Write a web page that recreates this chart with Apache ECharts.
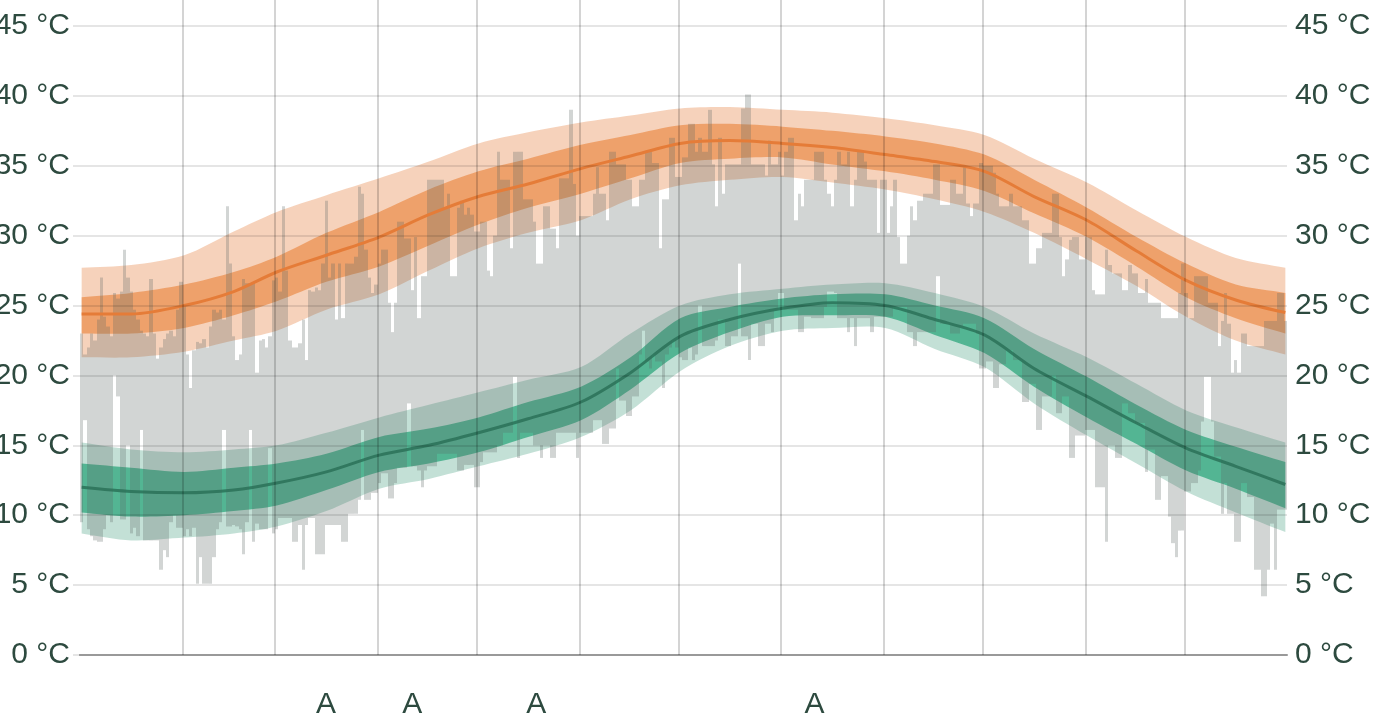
<!DOCTYPE html>
<html>
<head>
<meta charset="utf-8">
<script src="https://cdn.jsdelivr.net/npm/echarts@6/dist/echarts.min.js"></script>
<style>
html,body{margin:0;padding:0;background:#fff;}
#c{width:1389px;height:719px;}
</style>
</head>
<body>
<div id="c"></div>
<script>
// ---- Data ----
const monthStarts = [31, 59, 90, 120, 151, 181, 212, 243, 273, 304, 334];
const markerDays = [74.4, 100.5, 138.0, 222.1];
const markerLabels = ['A', 'A', 'A', 'A'];

// climatology (days of year)
const bandDays = [0, 15, 31, 46, 59, 74, 90, 105, 120, 135, 151, 166, 181, 196, 212, 227, 243, 258, 273, 288, 304, 319, 334, 349, 364];
const hiP90 = [27.7, 27.9, 28.6, 30.3, 31.7, 32.9, 34.1, 35.3, 36.6, 37.4, 38.1, 38.6, 39.1, 39.2, 39.0, 38.8, 38.4, 37.9, 37.2, 35.5, 33.8, 31.8, 29.9, 28.4, 27.7];
const hiP75 = [25.6, 25.9, 26.5, 27.4, 28.5, 30.2, 31.7, 33.3, 34.6, 35.5, 36.5, 37.2, 37.9, 38.0, 37.8, 37.5, 37.1, 36.6, 35.8, 34.0, 32.0, 29.9, 28.0, 26.5, 25.9];
const hiP50 = [24.4, 24.4, 25.0, 26.0, 27.4, 28.6, 29.9, 31.5, 32.8, 33.7, 34.8, 35.7, 36.6, 36.8, 36.6, 36.3, 35.8, 35.3, 34.6, 32.8, 31.1, 28.9, 26.8, 25.4, 24.5];
const hiP25 = [23.0, 23.0, 23.4, 24.3, 25.3, 26.7, 27.8, 29.3, 30.8, 32.0, 33.0, 34.1, 35.2, 35.5, 35.6, 35.1, 34.6, 34.0, 33.2, 31.6, 29.9, 27.8, 25.6, 24.1, 23.0];
const hiP10 = [21.3, 21.3, 21.7, 22.5, 23.2, 24.7, 25.8, 27.5, 29.1, 30.2, 31.1, 32.6, 33.6, 34.0, 34.2, 33.8, 33.3, 32.6, 31.7, 30.2, 28.3, 26.4, 24.2, 22.5, 21.5];

const loP90 = [15.2, 14.7, 14.5, 14.7, 15.0, 15.9, 17.0, 17.9, 18.8, 19.7, 20.6, 23.0, 25.0, 25.8, 26.2, 26.5, 26.6, 25.9, 24.9, 23.0, 21.3, 19.4, 17.5, 16.3, 15.2];
const loP75 = [13.7, 13.4, 13.1, 13.4, 13.7, 14.4, 15.6, 16.2, 17.0, 18.1, 19.2, 21.3, 24.1, 24.9, 25.5, 25.8, 25.8, 25.0, 24.1, 21.9, 19.9, 17.9, 16.1, 14.9, 13.8];
const loP50 = [12.0, 11.7, 11.6, 11.8, 12.3, 13.1, 14.3, 15.0, 15.9, 16.9, 18.1, 20.2, 22.8, 24.0, 24.8, 25.2, 25.0, 24.0, 22.9, 20.5, 18.5, 16.6, 14.8, 13.5, 12.2];
const loP25 = [10.2, 9.9, 10.0, 10.3, 10.7, 11.8, 13.1, 13.7, 14.5, 15.6, 16.8, 19.0, 21.6, 23.1, 24.2, 24.3, 24.2, 22.9, 21.6, 19.2, 17.0, 15.1, 13.2, 11.9, 10.5];
const loP10 = [8.7, 8.2, 8.4, 8.7, 9.2, 10.3, 11.9, 12.6, 13.5, 14.4, 15.6, 17.5, 20.3, 22.1, 23.2, 23.4, 23.4, 21.9, 20.6, 18.0, 15.7, 13.7, 11.7, 10.2, 8.8];

// daily highs by month
const highJan = [23.0, 21.5, 22.0, 23.0, 22.5, 24.0, 27.0, 24.2, 23.5, 22.8, 25.9, 25.5, 26.0, 29.0, 27.0, 26.0, 24.7, 24.0, 23.2, 23.0, 22.8, 26.9, 23.0, 21.2, 22.0, 22.6, 23.0, 23.2, 22.8, 24.7, 26.7];
const highFeb = [25.0, 21.5, 19.1, 21.8, 22.4, 22.3, 22.6, 22.0, 23.5, 24.7, 24.5, 24.7, 24.0, 32.1, 28.0, 22.8, 21.1, 21.5, 26.9, 26.6, 26.5, 26.6, 20.2, 22.5, 22.6, 22.0, 22.8, 26.8];
const highMar = [27.0, 26.0, 32.1, 27.5, 22.5, 22.0, 22.0, 22.3, 24.0, 21.1, 26.1, 26.0, 26.3, 26.1, 28.0, 32.5, 27.0, 28.0, 24.0, 28.0, 24.1, 28.0, 28.0, 28.0, 28.5, 33.5, 33.0, 29.0, 27.0, 25.9, 26.5];
const highApr = [28.0, 29.0, 29.0, 25.2, 23.1, 25.2, 31.0, 31.0, 29.8, 29.8, 26.1, 29.9, 24.1, 27.1, 27.1, 34.0, 34.0, 34.0, 34.0, 34.0, 32.0, 33.0, 27.1, 27.1, 32.0, 32.5, 31.5, 32.0, 31.5, 30.3];
const highMay = [30.3, 31.0, 31.0, 27.5, 27.1, 30.0, 36.0, 34.0, 34.0, 34.0, 29.1, 36.0, 36.0, 36.0, 32.6, 32.6, 32.6, 31.0, 28.0, 28.0, 32.1, 32.1, 30.5, 30.5, 29.1, 34.1, 34.1, 34.1, 39.0, 33.7, 30.0];
const highJun = [31.4, 31.4, 31.4, 31.4, 33.0, 34.9, 33.0, 33.0, 31.1, 36.0, 36.0, 35.1, 35.1, 35.1, 34.0, 34.0, 32.1, 32.1, 34.0, 34.0, 36.0, 36.0, 35.2, 35.2, 29.1, 32.6, 32.6, 37.0, 37.0, 34.2];
const highJul = [34.2, 35.6, 35.6, 38.0, 38.0, 36.0, 37.0, 36.0, 36.0, 39.0, 35.1, 32.1, 37.0, 33.0, 35.1, 35.1, 35.1, 35.1, 35.1, 39.1, 40.1, 40.1, 35.1, 35.1, 35.1, 35.1, 34.3, 36.8, 35.1, 35.1, 36.0];
const highAug = [34.3, 36.0, 37.0, 37.0, 31.1, 33.0, 32.1, 34.0, 34.0, 34.0, 36.0, 36.0, 36.0, 34.0, 33.0, 32.1, 34.0, 36.0, 35.1, 35.1, 36.0, 32.1, 34.0, 36.0, 36.0, 35.3, 34.0, 34.0, 34.0, 30.2, 34.0];
const highSep = [34.0, 30.2, 32.1, 34.0, 29.9, 28.0, 28.0, 30.0, 32.1, 31.1, 32.5, 32.5, 33.0, 33.0, 33.0, 35.1, 35.1, 32.2, 32.2, 32.2, 34.0, 34.0, 33.0, 33.0, 35.0, 32.3, 31.4, 32.3, 32.3, 35.2];
const highOct = [35.0, 35.0, 35.0, 34.5, 33.0, 32.1, 32.1, 32.1, 33.0, 32.1, 32.1, 32.1, 31.1, 31.1, 28.0, 28.0, 29.1, 29.1, 30.2, 30.2, 30.2, 33.0, 33.0, 29.9, 27.1, 28.3, 29.7, 29.9, 29.9, 28.3, 28.3];
const highNov = [29.9, 29.9, 26.1, 25.8, 25.8, 25.8, 29.0, 27.9, 27.3, 27.3, 27.3, 26.1, 26.1, 27.9, 27.3, 27.3, 25.9, 25.9, 26.9, 25.2, 25.2, 25.2, 25.2, 24.1, 24.1, 24.1, 24.1, 24.1, 25.9, 28.0];
const highDec = [25.9, 24.1, 24.1, 27.1, 27.1, 27.1, 27.1, 25.2, 25.2, 25.2, 22.1, 23.9, 25.9, 23.7, 20.2, 21.1, 20.2, 23.0, 23.0, 22.1, 22.1, 22.1, 22.1, 22.1, 23.9, 23.9, 23.9, 23.9, 25.9, 25.9, 23.9];

// daily lows by month
const lowJan = [9.5, 16.8, 9.0, 8.5, 8.2, 8.1, 8.1, 9.0, 10.0, 9.5, 20.0, 18.5, 9.7, 9.7, 15.0, 8.7, 9.1, 8.5, 16.1, 8.2, 8.2, 8.2, 8.2, 8.2, 6.1, 7.5, 7.0, 9.5, 10.0, 9.1, 9.1];
const lowFeb = [8.5, 9.0, 8.5, 9.1, 5.1, 7.0, 5.1, 5.1, 5.1, 7.0, 9.0, 9.5, 16.1, 9.2, 9.2, 9.3, 9.2, 9.0, 7.2, 9.5, 16.1, 8.1, 9.4, 9.0, 9.0, 9.0, 14.8, 8.7];
const lowMar = [9.0, 9.8, 9.8, 9.8, 9.8, 8.1, 8.1, 9.3, 6.1, 9.3, 9.8, 9.8, 7.2, 7.2, 7.2, 9.3, 9.3, 9.3, 9.3, 9.3, 8.1, 8.1, 10.1, 10.1, 10.1, 11.1, 16.1, 11.1, 11.1, 11.6, 11.6];
const lowApr = [12.3, 13.0, 13.0, 11.2, 11.2, 12.3, 13.4, 13.4, 13.4, 18.0, 13.5, 13.5, 13.2, 12.0, 13.2, 13.5, 13.5, 13.5, 14.4, 14.4, 14.4, 14.4, 14.4, 14.4, 13.2, 13.2, 13.6, 13.6, 13.6, 12.0];
const lowMay = [12.0, 13.8, 14.5, 14.5, 14.5, 14.5, 15.0, 15.0, 15.9, 15.9, 15.9, 19.9, 14.1, 15.9, 15.9, 15.9, 15.9, 15.0, 15.0, 14.1, 15.0, 15.0, 14.1, 14.1, 15.9, 15.9, 15.9, 15.9, 15.9, 15.9, 14.1];
const lowJun = [15.9, 15.9, 15.9, 15.9, 16.8, 16.8, 16.8, 15.1, 15.1, 16.2, 16.2, 20.5, 18.2, 18.2, 17.1, 17.1, 18.5, 18.5, 21.5, 23.2, 21.0, 20.5, 21.5, 21.0, 21.0, 19.1, 21.5, 22.0, 22.5, 22.0];
const lowJul = [21.3, 21.1, 21.1, 22.0, 21.1, 21.5, 25.0, 22.1, 22.1, 22.1, 22.1, 22.5, 24.0, 24.0, 22.1, 22.1, 22.8, 22.8, 28.0, 22.8, 22.8, 21.1, 23.7, 23.7, 22.1, 22.1, 23.7, 23.7, 23.1, 24.7, 25.9];
const lowAug = [25.9, 24.7, 24.7, 24.7, 24.7, 23.1, 23.1, 24.2, 24.2, 24.1, 24.1, 24.1, 24.1, 24.9, 26.0, 26.0, 25.9, 24.1, 24.1, 24.1, 23.1, 24.1, 22.1, 24.1, 24.1, 24.1, 24.1, 23.1, 24.2, 24.2, 24.2];
const lowSep = [24.2, 24.2, 24.2, 24.9, 24.9, 24.9, 24.9, 23.1, 23.1, 22.1, 23.1, 23.1, 23.1, 23.1, 23.1, 23.1, 27.1, 23.7, 23.7, 23.7, 23.0, 23.0, 23.0, 23.5, 23.7, 23.7, 23.7, 23.7, 23.0, 20.5];
const lowOct = [20.5, 21.0, 21.0, 19.1, 19.1, 20.8, 20.8, 21.8, 21.8, 21.1, 21.1, 21.1, 18.1, 18.1, 19.4, 19.4, 16.1, 16.1, 18.5, 18.5, 18.5, 20.0, 17.3, 17.3, 18.5, 18.5, 14.1, 14.1, 15.7, 15.7, 15.7];
const lowNov = [16.1, 16.1, 16.1, 12.0, 12.0, 12.0, 8.1, 15.0, 15.0, 14.1, 14.1, 18.0, 18.0, 17.3, 17.3, 16.6, 16.6, 16.6, 13.1, 14.7, 14.7, 11.1, 11.1, 12.8, 12.8, 9.9, 8.0, 7.0, 8.9, 8.9];
const lowDec = [11.7, 11.7, 12.3, 12.3, 13.2, 16.7, 19.9, 19.9, 16.7, 14.2, 14.2, 10.1, 12.3, 10.1, 10.1, 8.1, 8.1, 12.3, 12.3, 11.3, 11.3, 6.1, 6.1, 4.2, 4.2, 6.1, 9.4, 6.1, 10.4, 10.4, 10.4];

// ---- Build ----
const dailyHigh = [].concat(highJan, highFeb, highMar, highApr, highMay, highJun, highJul, highAug, highSep, highOct, highNov, highDec);
const dailyLow = [].concat(lowJan, lowFeb, lowMar, lowApr, lowMay, lowJun, lowJul, lowAug, lowSep, lowOct, lowNov, lowDec);

const TEXT = '#2d4a3f';
const FONT = 'Liberation Sans';
const FS = 30;

function bandSeries(lo, hi, color) {
  return {
    type: 'custom',
    silent: true,
    clip: false,
    data: [[0, 0]],
    encode: { x: 0, y: 1 },
    renderItem: function (params, api) {
      const n = bandDays.length;
      const top = bandDays.map((d, i) => api.coord([d + 0.5, hi[i]]));
      const bot = bandDays.map((d, i) => api.coord([d + 0.5, lo[i]]));
      // duplicate corner points so the smoothing keeps square ends
      const pts = [top[0]].concat(top, [top[n - 1]], [bot[n - 1]], bot.slice().reverse(), [bot[0]]);
      return { type: 'polygon', shape: { points: pts, smooth: 0.3 }, style: { fill: color } };
    }
  };
}
function medianSeries(vals, color) {
  return {
    type: 'line',
    silent: true,
    symbol: 'none',
    smooth: 0.3,
    data: bandDays.map((d, i) => [d + 0.5, vals[i]]),
    lineStyle: { color: color, width: 3 }
  };
}

const chart = echarts.init(document.getElementById('c'), null, { renderer: 'canvas' });
chart.setOption({
  animation: false,
  backgroundColor: '#fff',
  grid: { left: 80, right: 102, top: 26, bottom: 64, containLabel: false, outerBoundsMode: 'none' },
  xAxis: [
    {
      type: 'value', min: 0, max: 365, position: 'bottom', z: 10,
      axisLine: { show: true, lineStyle: { color: '#999', width: 2 } },
      axisTick: { show: false },
      splitLine: { show: false },
      axisLabel: {
        show: true, customValues: markerDays, margin: 35,
        color: TEXT, fontSize: FS, fontFamily: FONT,
        formatter: function (v) {
          let best = 0, bd = 1e9;
          markerDays.forEach((m, i) => { const dd = Math.abs(m - v); if (dd < bd) { bd = dd; best = i; } });
          return markerLabels[best];
        }
      }
    },
    {
      type: 'value', min: 0, max: 365, position: 'bottom', offset: 35, z: 10,
      axisLine: { show: false },
      axisLabel: { show: false },
      splitLine: { show: false },
      axisTick: {
        show: true, inside: true, length: 678, customValues: monthStarts,
        lineStyle: { color: 'rgba(0,0,0,0.17)', width: 2 }
      }
    }
  ],
  yAxis: [
    {
      type: 'value', min: 0, max: 45, interval: 5, position: 'left', z: 10,
      axisLine: { show: false },
      axisTick: { show: true, length: 7, lineStyle: { color: 'rgba(0,0,0,0.1)', width: 2 } },
      splitLine: { show: true, lineStyle: { color: 'rgba(0,0,0,0.1)', width: 2 } },
      axisLabel: { margin: 10, color: TEXT, fontSize: FS, fontFamily: FONT, formatter: '{value} °C' }
    },
    {
      type: 'value', min: 0, max: 45, interval: 5, position: 'right', z: 10,
      axisLine: { show: false },
      axisTick: { show: false },
      splitLine: { show: false },
      axisLabel: { margin: 8, color: TEXT, fontSize: FS, fontFamily: FONT, formatter: '{value} °C' }
    }
  ],
  series: [
    bandSeries(hiP10, hiP90, 'rgba(228,115,45,0.32)'),
    bandSeries(hiP25, hiP75, 'rgba(234,128,54,0.6)'),
    medianSeries(hiP50, '#e57c38'),
    bandSeries(loP10, loP90, 'rgba(38,145,108,0.28)'),
    bandSeries(loP25, loP75, 'rgba(30,160,115,0.68)'),
    medianSeries(loP50, 'rgba(40,110,85,0.8)'),
    {
      type: 'custom',
      silent: true,
      data: dailyLow.map((lo, i) => [i, lo, dailyHigh[i]]),
      encode: { x: 0, y: [1, 2] },
      renderItem: function (params, api) {
        const d = api.value(0), lo = api.value(1), hi = api.value(2);
        const a = api.coord([d, hi]);
        const b = api.coord([d + 1, lo]);
        const x0 = Math.round(a[0]), x1 = Math.round(b[0]);
        return {
          type: 'rect',
          shape: { x: x0, y: a[1], width: x1 - x0, height: b[1] - a[1] },
          style: { fill: 'rgba(95,105,100,0.28)' }
        };
      }
    }
  ]
});
</script>
</body>
</html>
